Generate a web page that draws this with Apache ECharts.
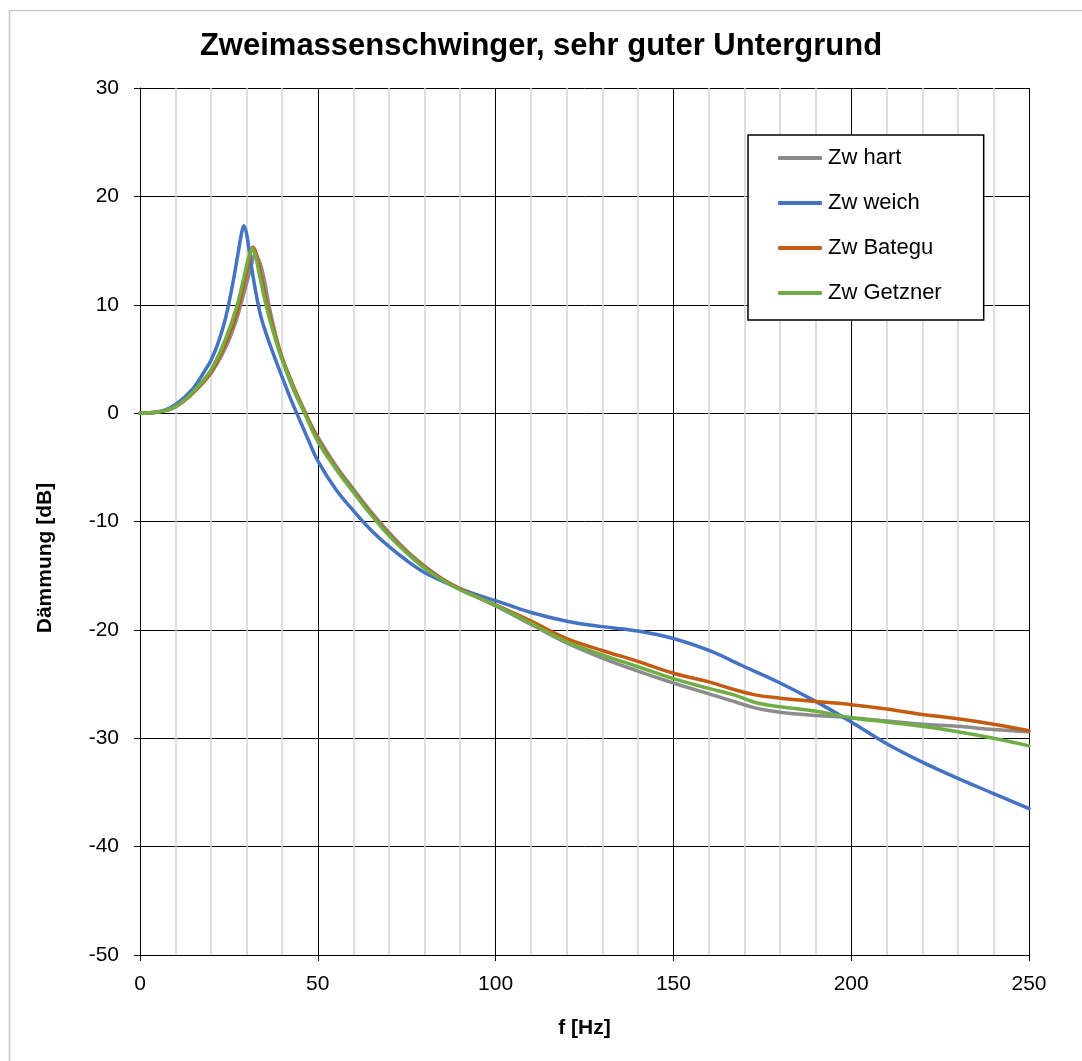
<!DOCTYPE html>
<html>
<head>
<meta charset="utf-8">
<script src="https://cdn.jsdelivr.net/npm/echarts@6/dist/echarts.min.js"></script>
<style>
html,body{margin:0;padding:0;background:#fff;}
#chart{width:1082px;height:1061px;}
</style>
</head>
<body>
<div id="chart"></div>
<script>
const seriesNames = ['Zw hart', 'Zw weich', 'Zw Bategu', 'Zw Getzner'];
const xTicks = [0, 50, 100, 150, 200, 250];
const yTicks = [-50, -40, -30, -20, -10, 0, 10, 20, 30];

const fHart = [0,5,10,15,20,24,27,29,30.5,31.5,32.3,33,34,35,36,38,40,43,46.4,50,55,60,65,70,75,80,85,90,95,100,110,120,130,140,150,160,166,173,180,190,200,210,220,230,240,250];
const dbHart = [0,0.1,0.6,1.9,3.7,6.0,8.5,10.8,12.6,13.9,14.6,14.4,13.6,12.2,10.4,7.4,5.0,2.3,0.0,-2.2,-4.8,-7.0,-9.1,-11.0,-12.7,-14.1,-15.3,-16.3,-17.0,-17.8,-19.5,-21.2,-22.6,-23.8,-24.9,-25.9,-26.5,-27.2,-27.6,-27.9,-28.1,-28.4,-28.7,-28.9,-29.2,-29.4];

const fWeich = [0,5,10,15,18,20,22,24,26,27.5,28.5,29.2,30,31,32,33,34,35,37,40,42.5,45,47.5,50,55,60,65,70,75,80,85,90,95,100,110,120,130,140,150,160,170,180,190,200,210,220,230,240,250];
const dbWeich = [0,0.1,0.8,2.3,3.8,4.9,6.5,8.7,11.8,14.6,16.5,17.3,16.5,14.3,12.2,10.4,8.9,7.8,5.9,3.3,1.2,-0.7,-2.6,-4.4,-7.0,-9.0,-10.8,-12.3,-13.6,-14.7,-15.5,-16.2,-16.8,-17.3,-18.4,-19.2,-19.7,-20.1,-20.8,-21.9,-23.4,-24.9,-26.6,-28.5,-30.5,-32.2,-33.7,-35.1,-36.5];

const fBategu = [0,5,10,15,20,24,27,29,30.5,31.8,32.7,33.7,35,36.5,38,40,43,46,50,55,60,65,70,75,80,85,90,95,100,110,120,130,140,150,160,167,173,180,190,200,210,220,230,240,250];
const dbBategu = [0,0.1,0.6,1.9,3.8,6.4,9.0,11.6,13.8,15.3,14.7,13.2,11.1,9.0,7.2,5.1,2.6,0.4,-2.4,-5.0,-7.2,-9.3,-11.2,-12.8,-14.2,-15.3,-16.2,-17.0,-17.7,-19.2,-20.8,-21.9,-22.9,-24.0,-24.8,-25.5,-26.0,-26.3,-26.6,-26.9,-27.3,-27.8,-28.2,-28.7,-29.3];

const fGetzner = [0,5,10,15,20,24,27,29,30.5,31.6,32.5,33.5,35,36.5,38,40,43,46,50,55,60,65,70,75,80,85,90,95,100,110,120,130,140,150,160,167,173,180,190,200,210,220,230,240,250];
const dbGetzner = [0,0.1,0.6,2.0,4.0,6.8,9.6,12.2,14.3,15.2,14.5,12.9,10.6,8.6,6.9,4.9,2.4,0.2,-2.6,-5.1,-7.3,-9.4,-11.3,-12.9,-14.3,-15.4,-16.3,-17.0,-17.7,-19.4,-21.1,-22.3,-23.4,-24.5,-25.4,-26.0,-26.7,-27.1,-27.5,-28.1,-28.5,-28.9,-29.4,-30.0,-30.7];

const colors = ['#8c8c8c', '#4472C4', '#C55A11', '#70AD47'];
const FONT = 'Liberation Sans, Arial, Helvetica, sans-serif';

function pairs(fs, vs){ return fs.map((f,i)=>[f, vs[i]]); }
const allData = [pairs(fHart, dbHart), pairs(fWeich, dbWeich), pairs(fBategu, dbBategu), pairs(fGetzner, dbGetzner)];

const chart = echarts.init(document.getElementById('chart'), null, {renderer:'canvas'});
chart.setOption({
  backgroundColor: '#fff',
  animation: false,
  graphic: [{
    type: 'rect', silent: true, z: -10,
    shape: {x: 9.5, y: 10.5, width: 1200, height: 1200},
    style: {fill: 'none', stroke: '#c8c8c8', lineWidth: 1.5}
  }, {
    type: 'text', silent: true,
    x: 45, y: 558, rotation: Math.PI / 2,
    style: {text: 'Dämmung [dB]', fontFamily: FONT, fontSize: 21, fontWeight: 'bold', fill: '#000',
      align: 'center', verticalAlign: 'middle'}
  }],
  title: {
    text: 'Zweimassenschwinger, sehr guter Untergrund',
    left: 'center', top: 26,
    textStyle: {fontFamily: FONT, fontSize: 31, fontWeight: 'bold', color: '#000'}
  },
  legend: {
    orient: 'vertical', left: 748, top: 135,
    padding: [12, 42, 16, 30], itemGap: 23,
    itemWidth: 44, itemHeight: 4,
    icon: 'roundRect',
    backgroundColor: '#fff',
    borderColor: '#000', borderWidth: 1.5,
    textStyle: {fontFamily: FONT, fontSize: 22, color: '#000', padding: [0,0,0,1]},
    data: seriesNames
  },
  grid: {left: 140, right: 53, top: 88, bottom: 106, containLabel: false},
  xAxis: {
    type: 'value', min: 0, max: 250, interval: 50,
    name: 'f [Hz]', nameLocation: 'middle', nameGap: 63,
    nameTextStyle: {fontFamily: FONT, fontSize: 21, fontWeight: 'bold', color: '#000'},
    axisLine: {show: true, onZero: false, lineStyle: {color: '#000', width: 1}},
    axisTick: {show: true, length: 6, lineStyle: {color: '#000'}},
    axisLabel: {fontFamily: FONT, fontSize: 21, color: '#000', margin: 19,
      formatter: v => xTicks.includes(v) ? String(v) : ''},
    splitLine: {show: true, lineStyle: {color: '#000', width: 1}},
    minorTick: {show: true, splitNumber: 5, length: 0},
    minorSplitLine: {show: true, lineStyle: {color: '#d4d4d4', width: 1.5}}
  },
  yAxis: {
    type: 'value', min: -50, max: 30, interval: 10,
    axisLine: {show: true, onZero: false, lineStyle: {color: '#000', width: 1}},
    axisTick: {show: true, length: 6, lineStyle: {color: '#000'}},
    axisLabel: {fontFamily: FONT, fontSize: 21, color: '#000', margin: 21,
      formatter: v => yTicks.includes(v) ? String(v) : ''},
    splitLine: {show: true, lineStyle: {color: '#000', width: 1}}
  },
  series: seriesNames.map((n, i) => ({
    name: n, type: 'line', data: allData[i],
    showSymbol: false, symbol: 'none', smooth: 0.4,
    lineStyle: {color: colors[i], width: 3.5, cap: 'round', join: 'round'},
    itemStyle: {color: colors[i]},
    z: 2 + i
  }))
});
</script>
</body>
</html>
